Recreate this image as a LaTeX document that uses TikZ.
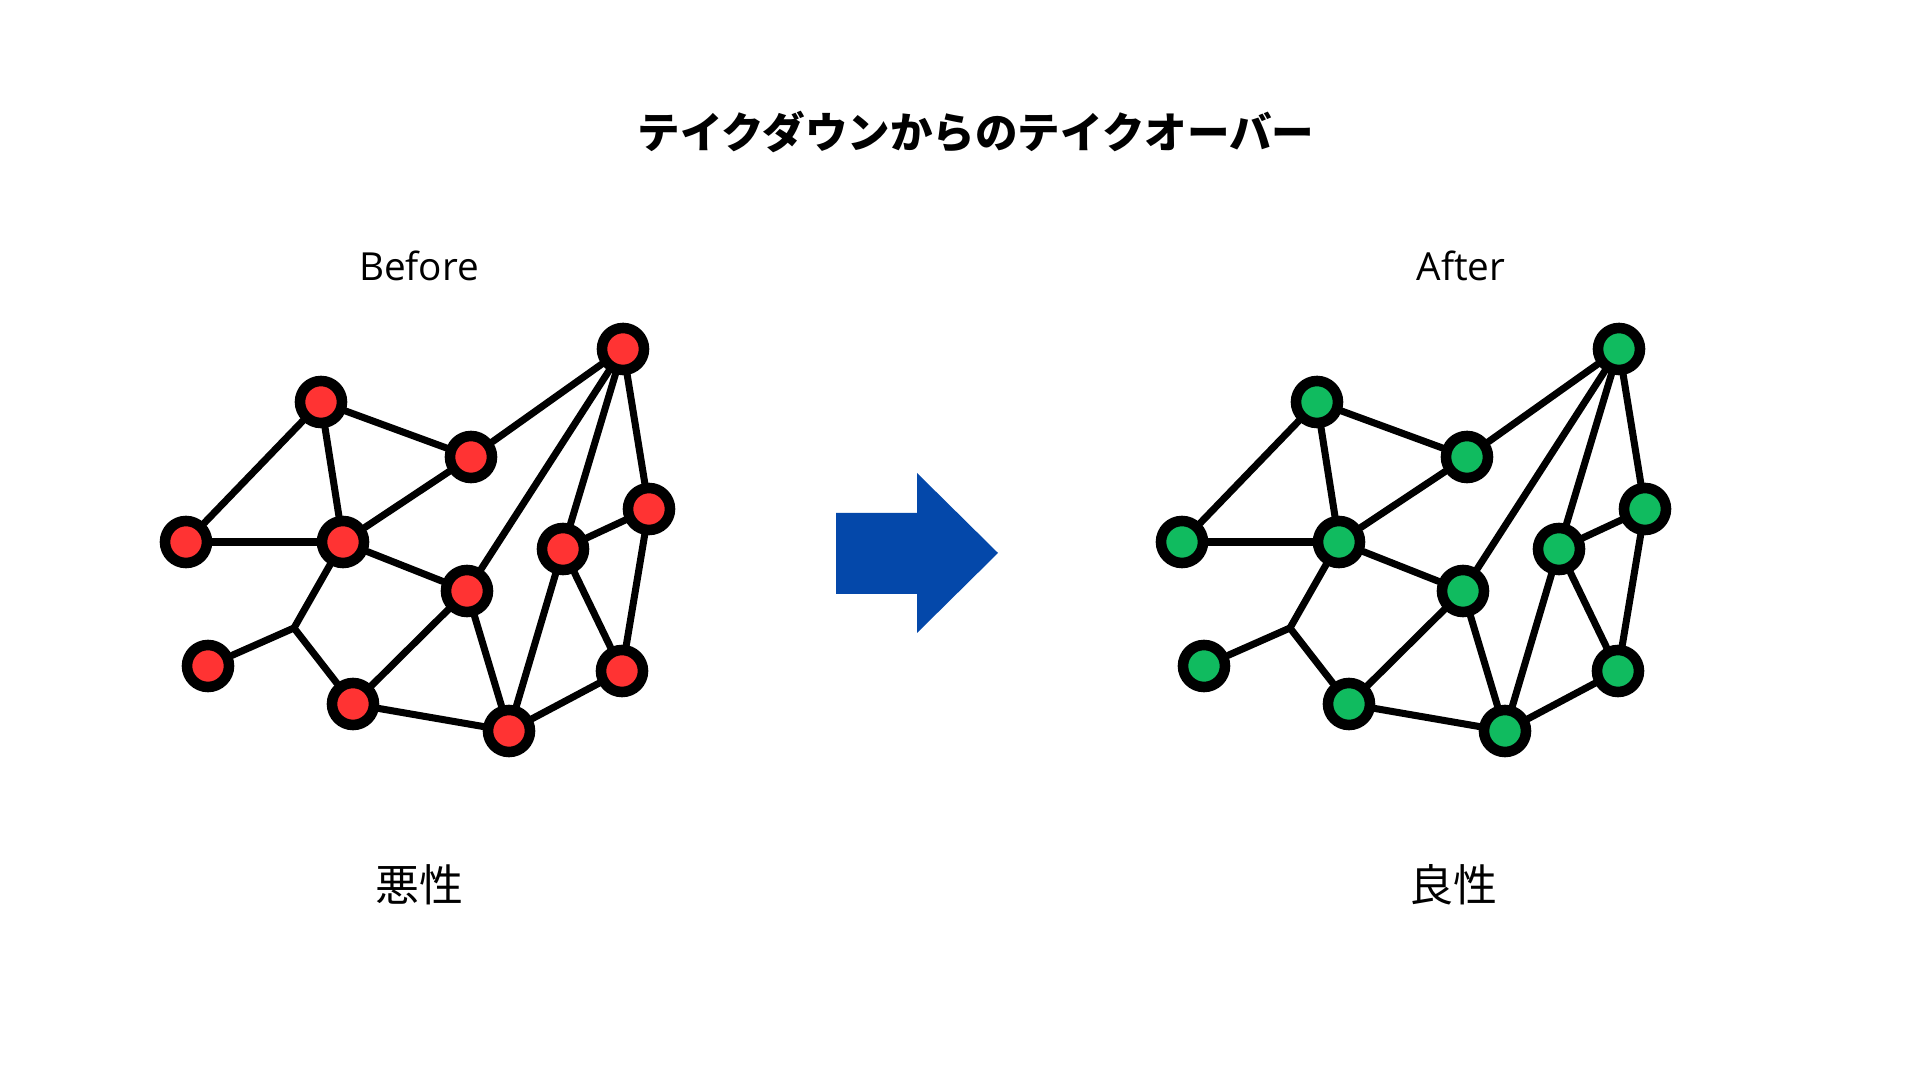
\documentclass[tikz,border=0pt]{standalone}
\usepackage{fontspec}
\setmainfont{Open Sans}
\newfontfamily\jpfont{Noto Sans CJK JP}
\usetikzlibrary{positioning}
\definecolor{badred}{RGB}{255,51,51}
\definecolor{goodgreen}{RGB}{16,187,95}
\definecolor{arrowblue}{RGB}{4,72,170}
\tikzset{dot/.style={circle,draw=black,line width=3pt,minimum size=0.42cm,inner sep=0pt},link/.style={line width=2pt,line cap=round},label/.style={font=\fontsize{11}{13}\selectfont},sub/.style={font=\jpfont\fontsize{12.5}{14}\selectfont}}

\begin{document}
\begin{tikzpicture}[x=0.01cm,y=-0.01cm]
\useasboundingbox (0,0) rectangle (1920,1080);
\node[font=\jpfont\bfseries\fontsize{12.1}{14}\selectfont] (title) at (976,132) {テイクダウンからのテイクオーバー};
\node[label] (before) at (419,266) {Before};
\node[label] (after) at (1461,266) {After};
\node[sub] (bad) at (419,885) {悪性};
\node[sub] (good) at (1453,885) {良性};
% the two networks, same layout
\foreach \side/\dx/\fillc in {b/0/badred, a/996/goodgreen} {
  \begin{scope}[xshift=\dx*0.01cm]
    \coordinate (\side m) at (294,628);
    \foreach \n/\x/\y in {1/623/349, 2/321/402, 3/471/457, 4/649/509, 5/186/542, 6/343/542,
                          7/563/549, 8/467/591, 9/208/666, 10/622/671, 11/353/704, 12/509/731}
      \node[dot,fill=\fillc] (\side\n) at (\x,\y) {};
  \end{scope}
  \foreach \u/\v in {2/5, 2/6, 2/3, 3/6, 3/1, 5/6, 6/8, 11/8, 11/12, 8/12, 8/1,
                     1/7, 1/4, 7/4, 7/12, 7/10, 4/10, 10/12}
    \draw[link] (\side\u) -- (\side\v);
  \draw[link] (\side 6) -- (\side m) -- (\side 11);
  \draw[link] (\side m) -- (\side 9);
}
% arrow between them
\fill[arrowblue] (836,513) coordinate (arr) -- (917,513) -- (917,473) -- (998,553) -- (917,633) -- (917,594) -- (836,594) -- cycle;
\end{tikzpicture}
\end{document}
